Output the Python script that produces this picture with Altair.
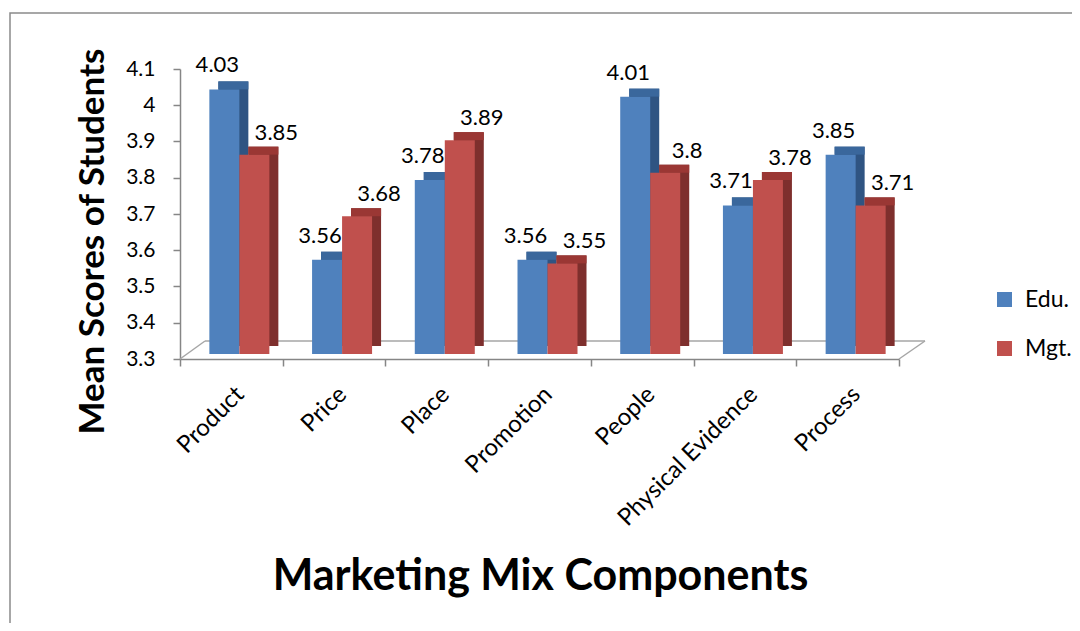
import altair as alt
import pandas as pd

categories = ["Product", "Price", "Place", "Promotion", "People", "Physical Evidence", "Process"]
edu = [4.03, 3.56, 3.78, 3.56, 4.01, 3.71, 3.85]
mgt = [3.85, 3.68, 3.89, 3.55, 3.80, 3.78, 3.71]
series_names = ["Edu.", "Mgt."]
y_ticks = [3.3, 3.4, 3.5, 3.6, 3.7, 3.8, 3.9, 4.0, 4.1]

rows = []
for c, e, m in zip(categories, edu, mgt):
    rows.append({"category": c, "series": "Edu.", "value": e})
    rows.append({"category": c, "series": "Mgt.", "value": m})
df = pd.DataFrame(rows)

W, H = 719, 290
FONT = "Lato"
front_colors = ["#4F81BD", "#C0504D"]
side_colors = {"Edu.": "#2F5482", "Mgt.": "#7E2F2D"}
top_colors = {"Edu.": "#3A679C", "Mgt.": "#9A3734"}
bar_shift = {"Edu.": -7, "Mgt.": 23}
label_dx = {"Edu.": -14, "Mgt.": 45}
label_dy = {"Edu.": -22, "Mgt.": -20}
DX, DY, LIFT = 9, 8, 5

x_enc = alt.X(
    "category:N",
    sort=categories,
    scale=alt.Scale(domain=categories, paddingInner=0, paddingOuter=0),
    axis=alt.Axis(
        title="Marketing Mix Components",
        titleFont=FONT, titleFontSize=43, titleFontWeight="bold", titleColor="black",
        titleX=360, titleY=230, titleBaseline="alphabetic", titleAnchor="middle",
        labelAngle=-45, labelFont=FONT, labelFontSize=24, labelColor="black",
        labelPadding=16, labelLimit=400, labelOverlap=False,
        tickBand="extent", tickSize=7, tickColor="#868686",
        domainColor="#868686", domainWidth=1.5, tickWidth=1.5,
    ),
)
y_scale = alt.Scale(domain=[3.3, 4.1], nice=False, zero=False)
y_enc = alt.Y(
    "value:Q",
    scale=y_scale,
    axis=alt.Axis(
        title="Mean Scores of Students",
        titleFont=FONT, titleFontSize=35, titleFontWeight="bold", titleColor="black",
        titleX=-77, titleY=172, titleBaseline="alphabetic", titleAngle=-90, titleAlign="center",
        values=y_ticks, format="~g",
        labelFont=FONT, labelFontSize=21, labelColor="black", labelPadding=18,
        tickSize=7, tickColor="#868686", tickWidth=1.5,
        domainColor="#868686", domainWidth=1.5, grid=False,
    ),
)

base = alt.Chart(df)
layers = []
for s in series_names:
    sub = base.transform_filter(alt.datum.series == s)
    side = sub.mark_bar(
        width=30, color=side_colors[s], xOffset=bar_shift[s] + DX,
        yOffset=-(LIFT + DY), y2Offset=-(LIFT + DY),
    ).encode(x=x_enc, y=y_enc, y2=alt.datum(3.3))
    top = sub.mark_bar(
        width=30, color=top_colors[s], xOffset=bar_shift[s] + DX,
        yOffset=-(LIFT + DY), y2Offset=-LIFT,
    ).encode(x=x_enc, y=y_enc, y2=alt.Y2("value:Q"))
    front = sub.mark_bar(
        width=30, xOffset=bar_shift[s], yOffset=-LIFT, y2Offset=-LIFT,
    ).encode(
        x=x_enc, y=y_enc, y2=alt.datum(3.3),
        color=alt.Color(
            "series:N",
            scale=alt.Scale(domain=series_names, range=front_colors),
            legend=alt.Legend(
                title=None, orient="none", legendX=813, legendY=219,
                symbolType="square", symbolSize=225, symbolStrokeWidth=0,
                labelFont=FONT, labelFontSize=23, labelColor="black",
                rowPadding=25, labelOffset=9,
            ),
        ),
    )
    labels = sub.mark_text(
        font=FONT, fontSize=22, color="black", baseline="alphabetic",
        align="center", dx=label_dx[s], dy=label_dy[s],
    ).encode(x=x_enc, y=y_enc, text=alt.Text("value:Q", format="~g"))
    layers += [side, top, front, labels]

deco = alt.Chart(pd.DataFrame({"k": [0]}))
floor_back = deco.mark_rule(color="#A6A6A6", strokeWidth=1.5).encode(
    x=alt.value(25), x2=alt.value(W + 26), y=alt.value(H - 18))
floor_left = deco.mark_rule(color="#A6A6A6", strokeWidth=1.5).encode(
    x=alt.value(0), x2=alt.value(25), y=alt.value(H), y2=alt.value(H - 18))
floor_right = deco.mark_rule(color="#A6A6A6", strokeWidth=1.5).encode(
    x=alt.value(W), x2=alt.value(W + 26), y=alt.value(H), y2=alt.value(H - 18))
frame = deco.mark_rect(fillOpacity=0, stroke="#8A8A8A", strokeWidth=1.5).encode(
    x=alt.value(-170), x2=alt.value(1000), y=alt.value(-56), y2=alt.value(700))

chart = alt.layer(frame, floor_back, floor_left, floor_right, *layers).properties(
    width=W, height=H,
    background="white",
    autosize=alt.AutoSizeParams(type="none"),
    padding={"left": 172, "top": 61, "right": 173, "bottom": 264},
).configure_view(strokeWidth=0, stroke="transparent")

chart.save("out.html", embed_options={"renderer": "svg", "actions": False})
